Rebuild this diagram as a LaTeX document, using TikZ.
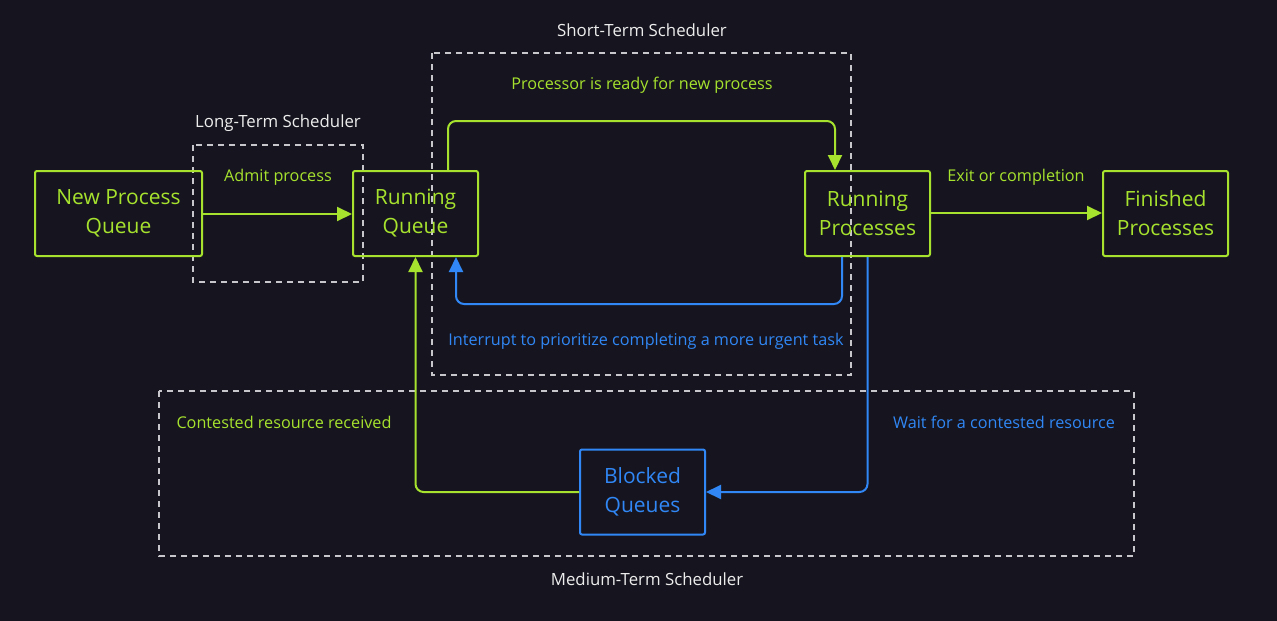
\documentclass[tikz,border=0pt]{standalone}
\usepackage{fontspec}
\setmainfont{Open Sans}
\usetikzlibrary{arrows.meta}

\definecolor{bgdark}{HTML}{16151F}
\definecolor{procgreen}{HTML}{A6E22E}
\definecolor{procblue}{HTML}{3087F5}
\definecolor{dashgrey}{HTML}{C8C8CC}
\definecolor{titlegrey}{HTML}{EDEDED}

\tikzset{
  queuebox/.style={draw, line width=2pt, rounded corners=2pt, minimum width=125pt,
    minimum height=85pt, align=center, font=\fontsize{21}{29}\selectfont},
  greenbox/.style={queuebox, draw=procgreen, text=procgreen},
  bluebox/.style={queuebox, draw=procblue, text=procblue},
  greenflow/.style={draw=procgreen, line width=2pt, rounded corners=8pt,
    -{Triangle[length=15pt, width=14pt]}},
  blueflow/.style={greenflow, draw=procblue},
  flowlabel/.style={font=\fontsize{16.2}{19}\selectfont},
  schedbox/.style={draw=dashgrey, line width=1.2pt, dash pattern=on 6pt off 5pt},
  schedtitle/.style={text=titlegrey, font=\fontsize{16.8}{19}\selectfont}
}

\begin{document}
\begin{tikzpicture}[x=1pt, y=-1pt]
\fill[bgdark] (0,0) rectangle (1277,621);
\useasboundingbox (0,0) rectangle (1277,621);

% scheduler regions
\draw[schedbox] (193,145) rectangle (363,282);
\draw[schedbox] (432,53) rectangle (851,375);
\draw[schedbox] (159,391) rectangle (1134,556);
\node[schedtitle] (longterm) at (278,123) {Long-Term Scheduler};
\node[schedtitle] (shortterm) at (642,30) {Short-Term Scheduler};
\node[schedtitle] (mediumterm) at (647,579) {Medium-Term Scheduler};

% queues
\node[greenbox, minimum width=167pt] (newq) at (118.5,213.5) {New Process\\Queue};
\node[greenbox] (runq) at (415.5,213.5) {Running\\Queue};
\node[greenbox] (runp) at (867.5,213.5) {Running\\Processes};
\node[greenbox] (fin) at (1165.5,213.5) {Finished\\Processes};
\node[bluebox] (blockq) at (642.5,492) {Blocked\\Queues};

% transitions
\draw[greenflow] (newq.east |- 0,214) -- (runq.west |- 0,214);
\draw[greenflow] ([xshift=32.5pt]runq.north) |- (642,121) -| ([xshift=-32.5pt]runp.north);
\draw[blueflow] ([xshift=-25.5pt]runp.south) |- (642,304) -| ([xshift=40.5pt]runq.south);
\draw[blueflow] (runp.south) |- (blockq.east);
\draw[greenflow] (blockq.west) -| (runq.south);
\draw[greenflow] (runp.east |- 0,213) -- (fin.west |- 0,213);

\node[flowlabel, text=procgreen] (admit) at (278,177) {Admit process};
\node[flowlabel, text=procgreen] (ready) at (642,85) {Processor is ready for new process};
\node[flowlabel, text=procblue] (interrupt) at (646,341) {Interrupt to prioritize completing a more urgent task};
\node[flowlabel, text=procblue] (wait) at (1004,422) {Wait for a contested resource};
\node[flowlabel, text=procgreen] (received) at (284,422) {Contested resource received};
\node[flowlabel, text=procgreen] (exit) at (1016,177) {Exit or completion};
\end{tikzpicture}
\end{document}
